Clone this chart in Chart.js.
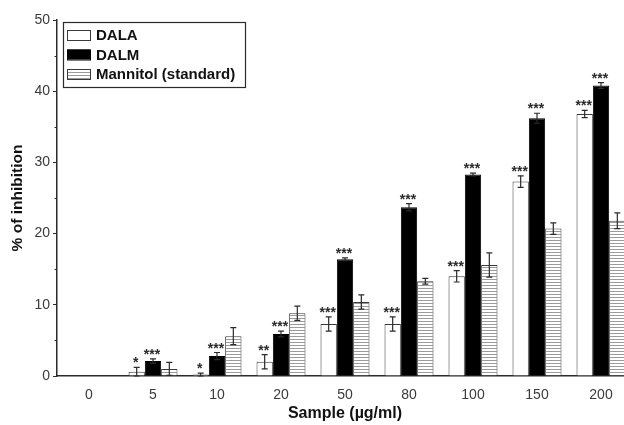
<!DOCTYPE html>
<html>
<head>
<meta charset="utf-8">
<script src="https://cdn.jsdelivr.net/npm/chart.js@4.4.1/dist/chart.umd.min.js"></script>
<style>
  html, body { margin: 0; padding: 0; background: #fff; overflow: hidden; }
  #chart { display: block; }
</style>
</head>
<body>
<canvas id="chart" width="640" height="425"></canvas>
<script>
// Data
const samples = ['0', '5', '10', '20', '50', '80', '100', '150', '200'];
const dalaValues = [0, 0.6, 0.2, 2.0, 7.3, 7.3, 14.0, 27.3, 36.8];
const dalaErrors = [0, 0.6, 0.2, 1.0, 1.0, 1.0, 0.8, 0.8, 0.5];
const dalaStars = ['', '*', '*', '**', '***', '***', '***', '***', '***'];
const dalmValues = [0, 2.1, 2.8, 5.9, 16.4, 23.7, 28.3, 36.2, 40.8];
const dalmErrors = [0, 0.3, 0.5, 0.4, 0.2, 0.5, 0.2, 0.7, 0.4];
const dalmStars = ['', '***', '***', '***', '***', '***', '***', '***', '***'];
const mannitolValues = [0, 1.0, 5.6, 8.8, 10.4, 13.3, 15.6, 20.7, 21.8];
const mannitolErrors = [0, 0.9, 1.2, 1.0, 1.0, 0.4, 1.7, 0.8, 1.1];
const mannitolStars = ['', '', '', '', '', '', '', '', ''];
const yTicks = [0, 10, 20, 30, 40, 50];

const ctx = document.getElementById('chart').getContext('2d');
const FONT = '"Liberation Sans", Arial, Helvetica, sans-serif';
const INK = '#2b2b2b';

// horizontal hatch for the Mannitol bars
function makeHatch() {
  const c = document.createElement('canvas');
  c.width = 4;
  c.height = 3;
  const g = c.getContext('2d');
  g.fillStyle = '#ffffff';
  g.fillRect(0, 0, 4, 3);
  g.fillStyle = '#9a9a9a';
  g.fillRect(0, 0, 4, 1);
  return ctx.createPattern(c, 'repeat');
}
const hatch = makeHatch();

// error bars + significance stars on top of each bar
const errorBars = {
  id: 'errorBars',
  afterDatasetsDraw(chart) {
    const c = chart.ctx;
    const y = chart.scales.y;
    c.save();
    chart.data.datasets.forEach((ds, i) => {
      const meta = chart.getDatasetMeta(i);
      meta.data.forEach((bar, j) => {
        const v = ds.data[j];
        const e = ds.errors[j];
        let top = y.getPixelForValue(v);
        if (e > 0) {
          const yt = y.getPixelForValue(v + e);
          const yb = y.getPixelForValue(Math.max(v - e, 0));
          c.strokeStyle = INK;
          c.lineWidth = 1.2;
          c.beginPath();
          c.moveTo(bar.x, yt); c.lineTo(bar.x, yb);
          c.moveTo(bar.x - 3, yt); c.lineTo(bar.x + 3, yt);
          c.moveTo(bar.x - 3, yb); c.lineTo(bar.x + 3, yb);
          c.stroke();
          top = yt;
        }
        if (ds.stars[j]) {
          c.fillStyle = INK;
          c.font = 'bold 14px ' + FONT;
          c.textAlign = 'center';
          c.textBaseline = 'alphabetic';
          c.fillText(ds.stars[j], bar.x - 1, top);
        }
      });
    });
    c.restore();
  }
};

// minor ticks on the y axis and the framed legend inside the plot
const extras = {
  id: 'extras',
  afterDraw(chart) {
    const c = chart.ctx;
    const y = chart.scales.y;
    const left = chart.chartArea.left;
    c.save();
    c.strokeStyle = INK;
    c.lineWidth = 1;
    c.beginPath();
    for (let v = 5; v < 50; v += 10) {
      const py = Math.round(y.getPixelForValue(v)) + 0.5;
      c.moveTo(left - 2.5, py); c.lineTo(left, py);
    }
    c.stroke();

    // legend
    const bx = 63, by = 22, bw = 182, bh = 65;
    c.fillStyle = '#fff';
    c.fillRect(bx, by, bw, bh);
    c.lineWidth = 1.2;
    c.strokeRect(bx + 0.5, by + 0.5, bw, bh);
    c.font = 'bold 15px ' + FONT;
    c.textAlign = 'left';
    c.textBaseline = 'middle';
    chart.data.datasets.forEach((ds, i) => {
      const cy = by + 13 + i * 19.5;
      c.fillStyle = ds.backgroundColor;
      c.fillRect(67, cy - 5, 23, 10);
      c.strokeStyle = ds.borderColor;
      c.lineWidth = 1;
      c.strokeRect(67.5, cy - 4.5, 23, 10);
      c.fillStyle = '#111';
      c.fillText(ds.label, 96, cy + 1);
    });
    c.restore();
  }
};

new Chart(ctx, {
  type: 'bar',
  data: {
    labels: samples,
    datasets: [
      {
        label: 'DALA',
        data: dalaValues,
        errors: dalaErrors,
        stars: dalaStars,
        backgroundColor: '#ffffff',
        borderColor: '#3a3a3a',
        borderWidth: 1,
      },
      {
        label: 'DALM',
        data: dalmValues,
        errors: dalmErrors,
        stars: dalmStars,
        backgroundColor: '#000000',
        borderColor: '#000000',
        borderWidth: 1,
      },
      {
        label: 'Mannitol (standard)',
        data: mannitolValues,
        errors: mannitolErrors,
        stars: mannitolStars,
        backgroundColor: hatch,
        borderColor: '#3a3a3a',
        borderWidth: 1,
      },
    ],
  },
  options: {
    responsive: false,
    animation: false,
    datasets: {
      bar: { categoryPercentage: 0.765, barPercentage: 1.0 },
    },
    layout: { padding: { left: 0, top: 20, right: 7, bottom: 0 } },
    plugins: {
      legend: { display: false },
      tooltip: { enabled: false },
    },
    scales: {
      x: {
        afterFit(scale) { scale.height = 49; },
        grid: { display: false },
        border: { display: true, color: INK, width: 1.5 },
        ticks: {
          color: '#3a3a3a',
          padding: 3,
          font: { family: FONT, size: 14 },
        },
        title: {
          display: true,
          text: 'Sample (\u00b5g/ml)',
          color: '#111',
          padding: { bottom: 2 },
          font: { family: FONT, size: 16, weight: 'bold' },
        },
      },
      y: {
        min: 0,
        max: 50,
        afterFit(scale) { scale.width = 57; },
        afterBuildTicks(scale) { scale.ticks = yTicks.map(v => ({ value: v })); },
        grid: {
          display: true,
          drawOnChartArea: false,
          drawTicks: true,
          tickLength: 4,
          tickColor: INK,
        },
        border: { display: true, color: INK, width: 1.5 },
        ticks: {
          color: '#3a3a3a',
          padding: 3,
          font: { family: FONT, size: 14 },
        },
        title: {
          display: true,
          text: '% of inhibition',
          color: '#111',
          padding: { top: 8 },
          font: { family: FONT, size: 15.5, weight: 'bold' },
        },
      },
    },
  },
  plugins: [errorBars, extras],
});
</script>
</body>
</html>
